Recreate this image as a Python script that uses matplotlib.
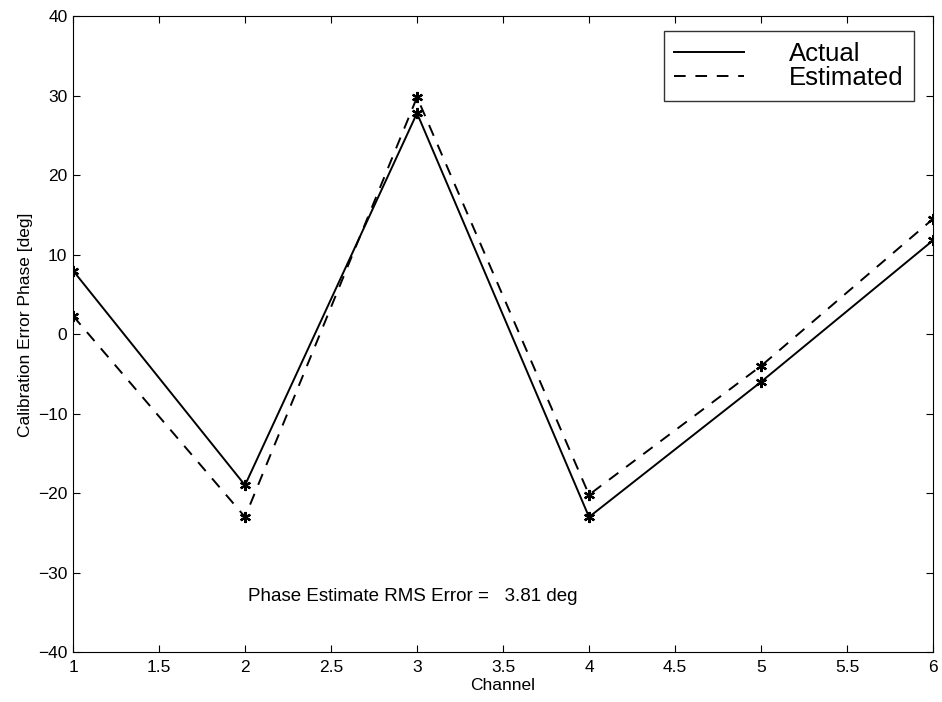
import matplotlib
matplotlib.use("Agg")
import matplotlib.pyplot as plt
from matplotlib.lines import Line2D

plt.rcParams['font.family'] = ['Liberation Sans', 'DejaVu Sans']

channel = [1, 2, 3, 4, 5, 6]
actual = [8.0, -19.0, 27.8, -23.0, -6.0, 11.8]
estimated = [2.3, -23.0, 29.8, -20.2, -4.0, 14.5]
rms_text = "Phase Estimate RMS Error =   3.81 deg"

fig = plt.figure(figsize=(9.42, 7.02), dpi=100)
ax = fig.add_axes([0.0775, 0.071, 0.913, 0.906])

star = (6, 2, 0)  # asterisk like matlab '*'
ax.plot(channel, actual, 'k-', lw=1.4, marker=star, ms=8, mew=1.6)
ax.plot(channel, estimated, 'k--', lw=1.4, dashes=(6, 5), marker=star, ms=8, mew=1.6)

ax.set_xlim(1, 6)
ax.set_ylim(-40, 40)
ax.set_xticks([1, 1.5, 2, 2.5, 3, 3.5, 4, 4.5, 5, 5.5, 6])
ax.set_xticklabels(['1', '1.5', '2', '2.5', '3', '3.5', '4', '4.5', '5', '5.5', '6'])
ax.set_yticks(range(-40, 41, 10))
ax.tick_params(direction='in', top=True, right=True, labelsize=12.5, length=5)
ax.tick_params(axis='x', pad=6)
ax.tick_params(axis='y', pad=4)
ax.set_xlabel('Channel', fontsize=12.5, labelpad=2)
ax.set_ylabel('Calibration Error Phase [deg]', fontsize=12.5)
ax.yaxis.set_label_coords(-0.046, 0.515)

ax.text(2.02, -33, rms_text, fontsize=13.5, va='center', ha='left')

# legend without markers, like the original
handles = [Line2D([], [], color='k', lw=1.4),
           Line2D([], [], color='k', lw=1.4, ls='--', dashes=(6, 5))]
leg = ax.legend(handles, ['Actual', 'Estimated'], loc='upper right',
                bbox_to_anchor=(0.978, 0.976), fontsize=18.5,
                handlelength=2.7, handletextpad=1.75, frameon=True, fancybox=False,
                edgecolor='black', borderpad=0.42, borderaxespad=0, labelspacing=0.0)
leg.get_frame().set_linewidth(1.0)

fig.savefig('out.png', dpi=100)
